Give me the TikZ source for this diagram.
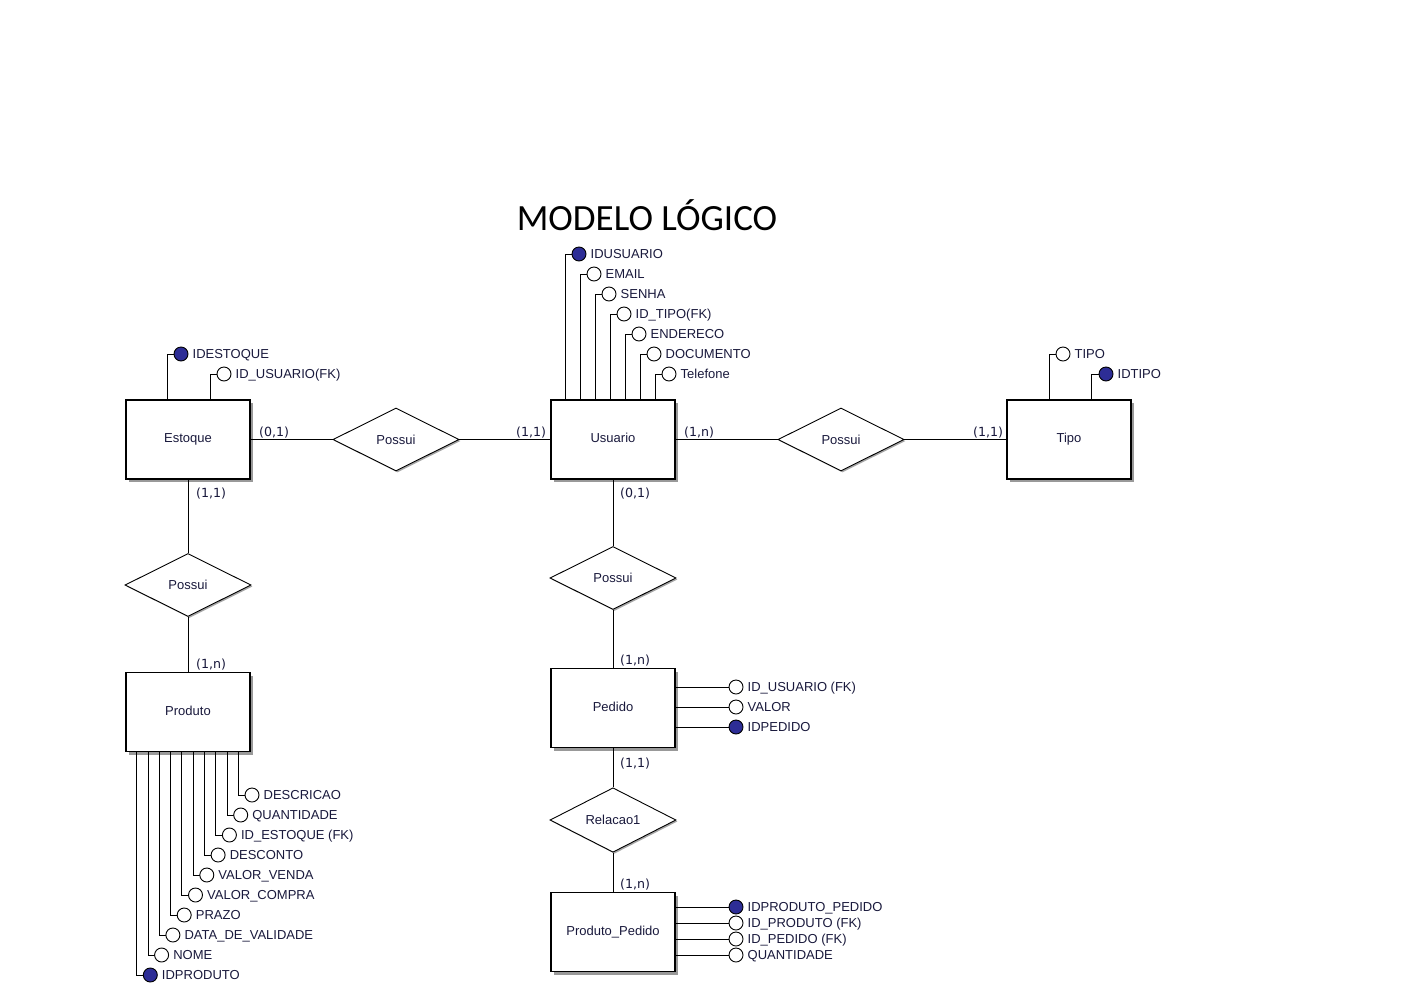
\documentclass[tikz,border=0pt]{standalone}
\usepackage{fontspec}
\setmainfont{Liberation Sans}
\newfontfamily\cardfont{DejaVu Sans}
\newfontfamily\titlefont{Carlito}
\usetikzlibrary{shapes.geometric,shadows}
\definecolor{pkblue}{RGB}{45,45,150}
\definecolor{txt}{RGB}{25,25,60}
\begin{document}
\begin{tikzpicture}[x=1pt,y=-1pt,
  entity/.style={draw, line width=1.3pt, fill=white, minimum width=124pt, minimum height=79pt, inner sep=0pt,
    font=\fontsize{13}{15}\selectfont, text=txt, text height=9.3pt, text depth=2.5pt,
    drop shadow={shadow xshift=3pt, shadow yshift=-3pt, fill=black!40, opacity=1}},
  rel/.style={diamond, draw, line width=0.9pt, fill=white, minimum width=126pt, minimum height=63pt, inner sep=0pt,
    font=\fontsize{13}{15}\selectfont, text=txt,
    drop shadow={shadow xshift=1.5pt, shadow yshift=-1.5pt, fill=black!35, opacity=1}},
  attr/.style={circle, draw, line width=0.9pt, fill=white, minimum size=14pt, inner sep=0pt},
  pk/.style={attr, fill=pkblue},
  lab/.style={anchor=west, inner sep=0pt, text height=9.3pt, text depth=0pt, font=\fontsize{13}{15}\selectfont, text=txt},
  card/.style={anchor=west, inner sep=0pt, text height=9.2pt, text depth=0pt, font=\cardfont\fontsize{12.6}{14}\selectfont, text=txt},
  conn/.style={line width=1pt},
  aline/.style={line width=0.9pt}
]
\useasboundingbox[fill=white] (0,0) rectangle (1402,991);

% title
\node[anchor=base, inner sep=0pt, font=\titlefont\fontsize{37}{40}\selectfont] (title) at (647,230) {MODELO LÓGICO};

% entities
\node[entity] (est) at (188,439.5) {Estoque};
\node[entity] (usu) at (613,439.5) {Usuario};
\node[entity] (tipo) at (1069,439.5) {Tipo};
\node[entity] (prod) at (188,712) {Produto};
\node[entity] (ped) at (613,708) {Pedido};
\node[entity] (pp) at (613,932) {Produto\_Pedido};

% relationships
\node[rel] (r1) at (396,439.5) {Possui};
\node[rel] (r2) at (841,439.5) {Possui};
\node[rel] (r3) at (188,585) {Possui};
\node[rel] (r4) at (613,578) {Possui};
\node[rel] (r5) at (613,820) {Relacao1};

% connectors
\draw[conn] (est) -- (r1);
\draw[conn] (r1) -- (usu);
\draw[conn] (usu) -- (r2);
\draw[conn] (r2) -- (tipo);
\draw[conn] (est) -- (r3);
\draw[conn] (r3) -- (prod);
\draw[conn] (usu) -- (r4);
\draw[conn] (r4) -- (ped);
\draw[conn] (ped) -- (r5);
\draw[conn] (r5) -- (pp);

% cardinalities
\node[card] (c1) at (259,432) {(0,1)};
\node[card] (c2) at (516,432) {(1,1)};
\node[card] (c3) at (684,432) {(1,n)};
\node[card] (c4) at (973,432) {(1,1)};
\node[card] (c5) at (196,493) {(1,1)};
\node[card] (c6) at (196,664) {(1,n)};
\node[card] (c7) at (620,493) {(0,1)};
\node[card] (c8) at (620,660) {(1,n)};
\node[card] (c9) at (620,763) {(1,1)};
\node[card] (c10) at (620,884) {(1,n)};

% Usuario attributes
\foreach \i/\t/\s in {1/IDUSUARIO/pk, 2/EMAIL/attr, 3/SENHA/attr, 4/ID\_TIPO(FK)/attr, 5/ENDERECO/attr, 6/DOCUMENTO/attr, 7/Telefone/attr} {
  \draw[aline] ({564+15*\i},{234+20*\i}) ++(-7,0) -| ([xshift={15*\i}]usu.north west);
  \node[\s] (u\i) at ({564+15*\i},{234+20*\i}) {};
  \node[lab] (ul\i) at ([xshift=4pt]u\i.east) {\t};
}

% Estoque attributes
\draw[aline] (181,354) ++(-7,0) -| ([xshift=42]est.north west);
\node[pk] (e1) at (181,354) {};
\node[lab] (el1) at ([xshift=4pt]e1.east) {IDESTOQUE};
\draw[aline] (224,374) ++(-7,0) -| ([xshift=85]est.north west);
\node[attr] (e2) at (224,374) {};
\node[lab] (el2) at ([xshift=4pt]e2.east) {ID\_USUARIO(FK)};

% Tipo attributes
\draw[aline] (1063,354) ++(-7,0) -| ([xshift=43]tipo.north west);
\node[attr] (t1) at (1063,354) {};
\node[lab] (tl1) at ([xshift=4pt]t1.east) {TIPO};
\draw[aline] (1106,374) ++(-7,0) -| ([xshift=85]tipo.north west);
\node[pk] (t2) at (1106,374) {};
\node[lab] (tl2) at ([xshift=4pt]t2.east) {IDTIPO};

% Produto attributes
\foreach \k/\t/\s in {1/IDPRODUTO/pk, 2/NOME/attr, 3/DATA\_DE\_VALIDADE/attr, 4/PRAZO/attr, 5/VALOR\_COMPRA/attr, 6/VALOR\_VENDA/attr, 7/DESCONTO/attr, 8/ID\_ESTOQUE (FK)/attr, 9/QUANTIDADE/attr, 10/DESCRICAO/attr} {
  \draw[aline] ({139+11.3*\k},{995-20*\k}) ++(-7,0) -| ([xshift={11.3*\k}]prod.south west);
  \node[\s] (p\k) at ({139+11.3*\k},{995-20*\k}) {};
  \node[lab] (pl\k) at ([xshift=4pt]p\k.east) {\t};
}

% Pedido attributes
\foreach \k/\y/\t/\s in {1/687/ID\_USUARIO (FK)/attr, 2/707/VALOR/attr, 3/727/IDPEDIDO/pk} {
  \node[\s] (d\k) at (736,\y) {};
  \draw[aline] (d\k.west) -- (d\k.west -| ped.east);
  \node[lab] (dl\k) at ([xshift=4pt]d\k.east) {\t};
}

% Produto_Pedido attributes
\foreach \k/\y/\t/\s in {1/907/IDPRODUTO\_PEDIDO/pk, 2/923/ID\_PRODUTO (FK)/attr, 3/939/ID\_PEDIDO (FK)/attr, 4/955/QUANTIDADE/attr} {
  \node[\s] (q\k) at (736,\y) {};
  \draw[aline] (q\k.west) -- (q\k.west -| pp.east);
  \node[lab] (ql\k) at ([xshift=4pt]q\k.east) {\t};
}
\end{tikzpicture}
\end{document}
